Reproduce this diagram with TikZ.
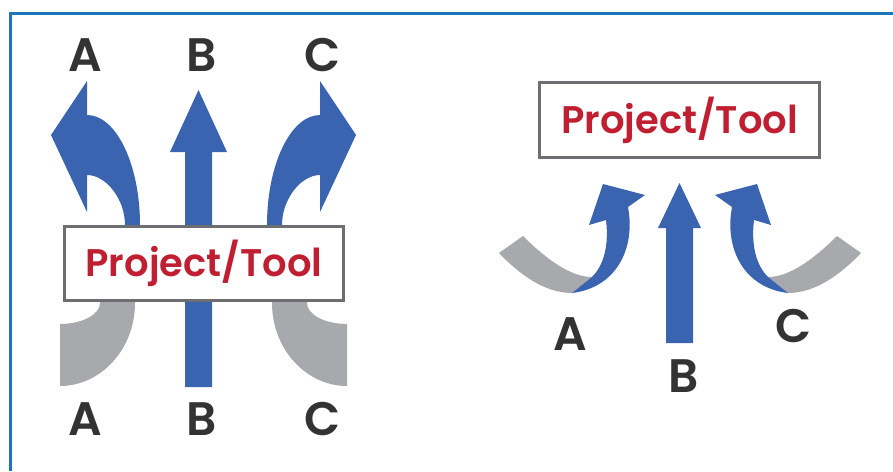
\documentclass[tikz,border=0pt]{standalone}
\usepackage{fontspec}
\setmainfont{Poppins}[BoldFont={Poppins SemiBold}]
\definecolor{arrblue}{HTML}{3A64AF}
\definecolor{arrgray}{HTML}{A7A9AC}
\definecolor{ptred}{HTML}{C01F31}
\definecolor{boxgray}{HTML}{6D6E71}
\definecolor{frameblue}{HTML}{1F75BC}
\definecolor{lettc}{HTML}{333333}
\begin{document}
\begin{tikzpicture}[x=1pt,y=-1pt,
  pbox/.style={draw=boxgray, line width=3pt, fill=white, text=ptred,
    font=\fontsize{38.5}{38.5}\selectfont\bfseries, inner sep=0pt},
  lett/.style={text=lettc, font=\fontsize{47}{47}\selectfont\bfseries, inner sep=0pt},
  bluefill/.style={fill=arrblue},
  grayfill/.style={fill=arrgray}]
\useasboundingbox (0,0) rectangle (893,471);
\fill[white] (0,0) rectangle (893,471);
\draw[frameblue, line width=2.5pt] (10.5,471) -- (10.5,13.5) -- (893,13.5);

% ---------- left panel ----------
\foreach \m in {1,-1}{
\begin{scope}[shift={(203.5,0)}, xscale=\m, shift={(-203.5,0)}]
  \path[grayfill] (60,324) .. controls (82,324) and (100,314.6) .. (100,303)
     -- (100,290) -- (135,290) -- (135,303)
     .. controls (135,349) and (101,386) .. (60,386) -- cycle;
  \path[bluefill] (87,81) -- (51,135) -- (87,212) -- (87,175)
     .. controls (106,175) and (125,199) .. (125,225) -- (125,240) -- (140,240) -- (140,225)
     .. controls (140,164) and (116,115) .. (87,115) -- cycle;
\end{scope}}
\path[bluefill] (185,387) -- (185,152) -- (170,152) -- (198.5,90) -- (227,152)
   -- (212,152) -- (212,387) -- cycle;
\node[pbox, minimum width=279pt, minimum height=74pt] (boxL) at (204,263.5) {Project/Tool};
\node[lett] (LAt) at (85,55) {A};
\node[lett] (LBt) at (202,55) {B};
\node[lett] (LCt) at (323,55) {C};
\node[lett] (LAb) at (85,419) {A};
\node[lett] (LBb) at (202,419) {B};
\node[lett] (LCb) at (323,419) {C};

% ---------- right panel ----------
\node[pbox, minimum width=280pt, minimum height=75pt] (boxR) at (679.5,120) {Project/Tool};
\foreach \m in {1,-1}{
\begin{scope}[shift={(680,0)}, xscale=\m, shift={(-680,0)}]
  \path[grayfill] (499,253) -- (523,236)
     .. controls (545,258) and (570,277) .. (592,277) -- (572,293)
     .. controls (545,293) and (520,275) .. (499,253) -- cycle;
  \path[bluefill] (572,293) .. controls (615,288) and (636,250) .. (628,207)
     -- (645,195) -- (603,184) -- (589,225) -- (606,220)
     .. controls (609,245) and (604,265) .. (592,277) -- cycle;
\end{scope}}
\path[bluefill] (666,343) -- (666,228) -- (658,228) -- (679.5,183) -- (701,228)
   -- (693,228) -- (693,343) -- cycle;
\node[lett] (RA) at (570,334) {A};
\node[lett] (RB) at (684,376) {B};
\node[lett] (RC) at (794,326) {C};
\end{tikzpicture}
\end{document}
